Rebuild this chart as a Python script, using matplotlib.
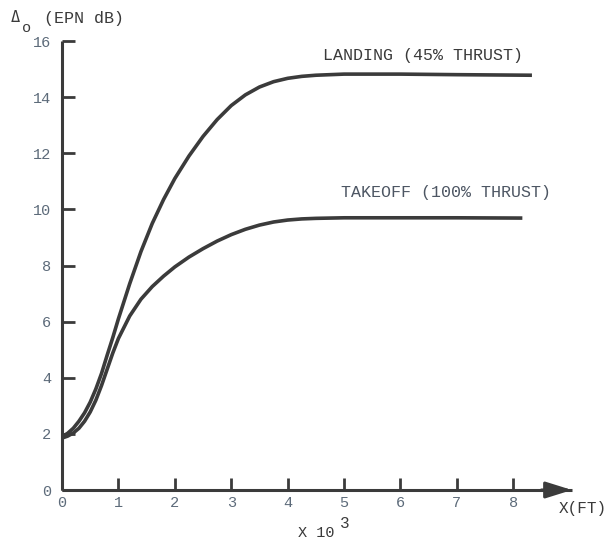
import matplotlib
matplotlib.use("Agg")
import matplotlib.pyplot as plt

# ── style ─────────────────────────────────────────────
plt.rcParams["font.family"] = ["Liberation Mono", "DejaVu Sans Mono"]
INK = "#3b3b3b"
TICK_TXT = "#5d6b7a"
LABEL_TXT = "#3a3a3a"
TAKEOFF_TXT = "#4d5663"

# ── data ──────────────────────────────────────────────
landing_x = [0, 0.1, 0.2, 0.3, 0.4, 0.5, 0.6, 0.7, 0.8, 0.9, 1.0, 1.2, 1.4, 1.6,
             1.8, 2.0, 2.25, 2.5, 2.75, 3.0, 3.25, 3.5, 3.75, 4.0, 4.25, 4.5,
             5.0, 6.0, 7.0, 8.33]
landing_y = [1.9, 2.02, 2.2, 2.45, 2.75, 3.13, 3.6, 4.15, 4.8, 5.43, 6.1, 7.35, 8.5,
             9.5, 10.35, 11.1, 11.9, 12.6, 13.2, 13.7, 14.08, 14.36, 14.55, 14.67,
             14.74, 14.78, 14.82, 14.82, 14.8, 14.78]

takeoff_x = [0, 0.1, 0.2, 0.3, 0.4, 0.5, 0.6, 0.7, 0.8, 0.9, 1.0, 1.2, 1.4, 1.6,
             1.8, 2.0, 2.25, 2.5, 2.75, 3.0, 3.25, 3.5, 3.75, 4.0, 4.25, 4.5,
             5.0, 6.0, 7.0, 8.16]
takeoff_y = [1.85, 1.92, 2.03, 2.2, 2.45, 2.78, 3.2, 3.72, 4.3, 4.88, 5.4, 6.2, 6.8,
             7.25, 7.62, 7.95, 8.3, 8.6, 8.87, 9.1, 9.29, 9.44, 9.55, 9.62, 9.66,
             9.68, 9.7, 9.7, 9.7, 9.69]

x_ticks = [0, 1, 2, 3, 4, 5, 6, 7, 8]
y_ticks = [0, 2, 4, 6, 8, 10, 12, 14, 16]

W, H = 610, 544
fig = plt.figure(figsize=(W / 100, H / 100), dpi=100)
fig.patch.set_facecolor("white")

# axes box: origin at px (62, 490), x = 8 at px 513, y = 16 at px 41
ax = fig.add_axes([62 / W, (H - 490) / H, 510 / W, 449 / H])
ax.set_xlim(0, 9.04)
ax.set_ylim(0, 16)
ax.set_facecolor("none")

for s in ("top", "right"):
    ax.spines[s].set_visible(False)
for s in ("left", "bottom"):
    ax.spines[s].set_color(INK)
    ax.spines[s].set_linewidth(2.2)
    ax.spines[s].set_capstyle("butt")

ax.set_xticks(x_ticks)
ax.set_yticks(y_ticks)
ax.tick_params(axis="both", direction="in", color=INK, width=2.0,
               labelcolor=TICK_TXT, labelsize=11)
ax.tick_params(axis="y", length=9, pad=8)
ax.tick_params(axis="x", length=9, pad=4)

# arrow head at the end of the x axis
ax.annotate("", xy=(1.0, 0), xytext=(0.94, 0), xycoords="axes fraction",
            arrowprops=dict(arrowstyle="-|>,head_length=1.6,head_width=0.5",
                            color=INK, lw=2.2, shrinkA=0, shrinkB=0),
            annotation_clip=False)

# curves
ax.plot(landing_x, landing_y, color=INK, lw=2.6, solid_capstyle="butt",
        solid_joinstyle="round", clip_on=False)
ax.plot(takeoff_x, takeoff_y, color=INK, lw=2.6, solid_capstyle="butt",
        solid_joinstyle="round", clip_on=False)

# curve labels
ax.text(4.63, 15.5, "LANDING (45% THRUST)", fontsize=12, color=LABEL_TXT,
        ha="left", va="center")
ax.text(4.95, 10.6, "TAKEOFF (100% THRUST)", fontsize=12, color=TAKEOFF_TXT,
        ha="left", va="center")

# axis titles (typewriter style, placed in figure pixels)
def px(x, y):
    return x / W, 1 - y / H

fig.text(*px(11, 18), "Δ", fontsize=11, color=LABEL_TXT, ha="left", va="center",
         family=["DejaVu Sans Mono"])
fig.text(*px(22, 28), "o", fontsize=11, color=LABEL_TXT, ha="left", va="center")
fig.text(*px(44, 18), "(EPN dB)", fontsize=12, color=LABEL_TXT, ha="left", va="center")

fig.text(*px(559, 509), "X(FT)", fontsize=11.5, color=LABEL_TXT, ha="left", va="center")
fig.text(*px(298, 533), "X 10", fontsize=11, color=LABEL_TXT, ha="left", va="center")
fig.text(*px(340, 523), "3", fontsize=11.5, color=LABEL_TXT, ha="left", va="center")

fig.savefig("out.png", dpi=100, facecolor="white")
